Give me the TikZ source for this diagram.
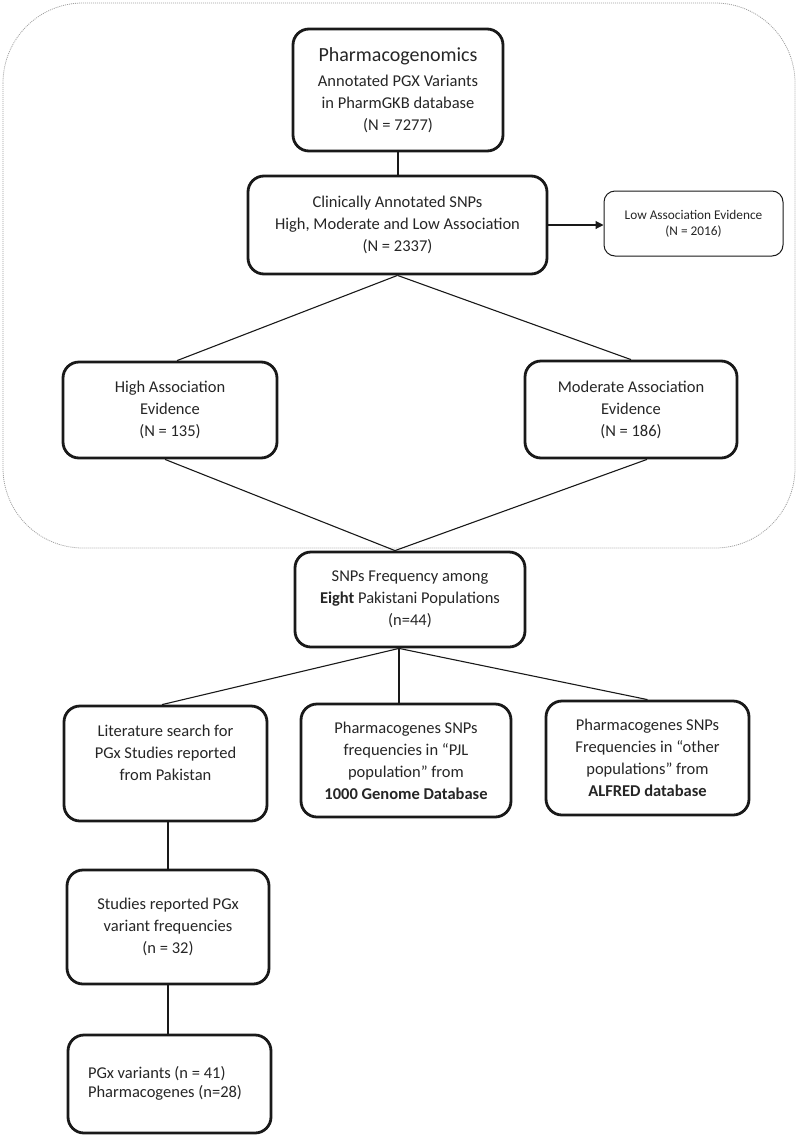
\documentclass[tikz,border=0pt]{standalone}
\usepackage{fontspec}
\setmainfont{Carlito}
\usetikzlibrary{arrows.meta,calc}
\begin{document}
\begin{tikzpicture}[x=1pt,y=-1pt,
  sz/.style 2 args={minimum width=#1pt, minimum height=#2pt},
  box/.style={draw=black!90, line width=2.8pt, rounded corners=16pt, fill=white,
    align=center, inner sep=0pt, text=black!85, font=\fontsize{16.5}{22}\selectfont},
  thinbox/.style={draw=black!90, line width=1pt, rounded corners=11pt, fill=white,
    align=center, inner sep=0pt, text=black!85, font=\fontsize{13.3}{16}\selectfont},
  link/.style={draw=black!90, line width=1.1pt},
  region/.style={draw=gray!75, line width=0.8pt, dash pattern=on 1pt off 1pt, rounded corners=80pt}
  ]
\useasboundingbox (0,0) rectangle (798,1138);
\draw[region] (3,3) rectangle (795,548);

\node[box, sz={210}{122}] (pgk) at (398,90)
  {{\fontsize{20}{25}\selectfont Pharmacogenomics}\\[3pt]Annotated PGX Variants\\in PharmGKB database\\(N = 7277)};
\node[box, sz={299}{98}] (clin) at (397.5,225)
  {Clinically Annotated SNPs\\High, Moderate and Low Association\\(N = 2337)};
\node[thinbox, sz={179}{65}] (low) at (693.5,223.5)
  {Low Association Evidence\\(N = 2016)};
\node[box, sz={214}{96}] (high) at (170,410)
  {High Association\\Evidence\\(N = 135)};
\node[box, sz={212}{97}] (mod) at (631,409.5)
  {Moderate Association\\Evidence\\(N = 186)};
\node[box, sz={230}{95}] (snp) at (410,599.5)
  {SNPs Frequency among\\\textbf{Eight} Pakistani Populations\\(n=44)};
\node[box, sz={203}{115}] (lit) at (165.5,763.5)
  {Literature search for\\PGx Studies reported\\from Pakistan\\\mbox{}};
\node[box, sz={210}{113}] (pjl) at (406,760.5)
  {Pharmacogenes SNPs\\frequencies in “PJL\\population” from\\\textbf{1000 Genome Database}};
\node[box, sz={203}{114}] (alf) at (647.5,758)
  {Pharmacogenes SNPs\\Frequencies in “other\\populations” from\\\textbf{ALFRED database}};
\node[box, sz={202}{114}] (stud) at (168,927)
  {Studies reported PGx\\variant frequencies\\(n = 32)};
\node[box, sz={203}{98}, inner xsep=20pt] (pgx) at (169.5,1084)
  {\makebox[163pt][l]{\begin{tabular}{@{}l@{}}PGx variants (n = 41)\\[-3pt]Pharmacogenes (n=28)\end{tabular}}};

\draw[link] (pgk.south) -- (pgk.south |- clin.north);
\draw[link, -{Triangle[length=8pt,width=8pt]}] (clin.east) -- (clin.east -| low.west);
\draw[link] (clin.south) -- ([xshift=7pt]high.north);
\draw[link] (clin.south) -- (mod.north);
\draw[link] ([xshift=-5pt]high.south) -- ([xshift=-15pt]snp.north);
\draw[link] ([xshift=16pt]mod.south) -- ([xshift=-15pt]snp.north);
\draw[link] ([xshift=-11pt]snp.south) -- ([xshift=-3.5pt]lit.north);
\draw[link] ([xshift=-11pt]snp.south) -- ([xshift=-11pt]snp.south |- pjl.north);
\draw[link] ([xshift=-11pt]snp.south) -- (alf.north);
\draw[link] (stud.north |- lit.south) -- (stud.north);
\draw[link] (stud.south) -- (stud.south |- pgx.north);
\end{tikzpicture}
\end{document}
